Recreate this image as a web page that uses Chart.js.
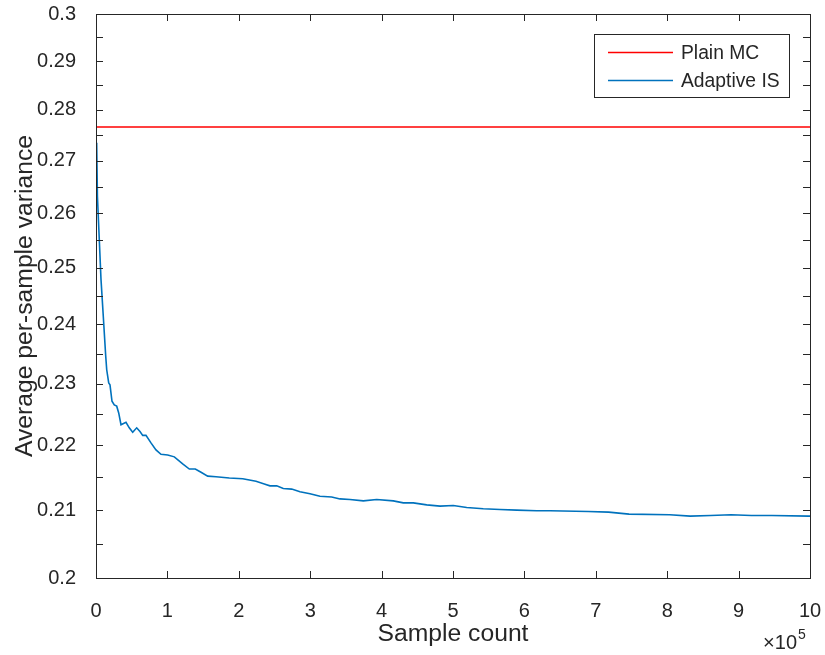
<!DOCTYPE html>
<html><head><meta charset="utf-8">
<script src="https://cdn.jsdelivr.net/npm/chart.js@4.4.1/dist/chart.umd.min.js"></script>
<style>html,body{margin:0;padding:0;background:#fff;}</style>
</head><body>
<canvas id="c" width="825" height="655"></canvas>
<script>
const sampleCounts = [0,1000,2000,4600,7000,10200,13600,15000,17800,19600,22400,25600,29000,31800,35000,42000,46600,51400,57000,61600,65400,70000,77000,84000,91000,100400,109700,121400,130700,139100,147100,156400,168100,186700,205500,224100,235700,243700,253100,262300,274100,285700,299700,313700,330100,341700,355700,374400,393100,416400,430400,444400,463200,481800,500400,519200,542400,565800,589200,617200,635900,689400,717900,746500,803600,832200,860800,889400,917900,946500,998000,1000000];
const adaptiveIS = [0.2735,0.2731,0.2631,0.2551,0.2479,0.2414,0.2346,0.2323,0.2301,0.2298,0.2271,0.2265,0.2263,0.2252,0.2233,0.2237,0.2228,0.2221,0.2228,0.2222,0.2216,0.2216,0.2204,0.2193,0.2186,0.2185,0.2182,0.2171,0.2163,0.2163,0.2158,0.2152,0.2151,0.2149,0.2148,0.2144,0.2140,0.2137,0.2137,0.2133,0.2132,0.2128,0.2125,0.2121,0.2120,0.2117,0.2116,0.2114,0.2116,0.2114,0.2111,0.2111,0.2108,0.2106,0.2107,0.2104,0.2102,0.2101,0.2100,0.2099,0.2099,0.2098,0.2097,0.2094,0.2093,0.2091,0.2092,0.2093,0.2092,0.2092,0.2091,0.2091];
const plainMCCounts = [0, 1000000];
const plainMC = [0.2766, 0.2766];
const seriesLabels = ['Plain MC', 'Adaptive IS'];
const xTicks = [0,100000,200000,300000,400000,500000,600000,700000,800000,900000,1000000];
const xTickLabels = ['0','1','2','3','4','5','6','7','8','9','10'];
const yTicks = [0.2,0.205,0.21,0.215,0.22,0.225,0.23,0.235,0.24,0.245,0.25,0.255,0.26,0.265,0.27,0.275,0.28,0.285,0.29,0.295,0.3];
const yTickLabels = ['0.2','','0.21','','0.22','','0.23','','0.24','','0.25','','0.26','','0.27','','0.28','','0.29','','0.3'];
const xTitle = 'Sample count';
const yTitle = 'Average per-sample variance';
const xExponent = ['\u00d710', '5'];

const FONT = '"Liberation Sans", Arial, Helvetica, sans-serif';
const INK = '#262626';

function noPad(s) { s.paddingLeft = 0; s.paddingRight = 0; s.paddingTop = 0; s.paddingBottom = 0; }

const framePlugin = {
  id: 'frame',
  afterDatasetsDraw(chart) {
    const {ctx, chartArea: a, scales: {x, y}} = chart;
    ctx.save();
    ctx.strokeStyle = INK;
    ctx.lineWidth = 1;
    const L = 7;
    ctx.beginPath();
    x.ticks.forEach(t => {
      const p = Math.round(x.getPixelForValue(t.value)) + 0.5;
      ctx.moveTo(p, a.bottom); ctx.lineTo(p, a.bottom - L);
      ctx.moveTo(p, a.top); ctx.lineTo(p, a.top + L);
    });
    y.ticks.forEach(t => {
      const p = Math.round(y.getPixelForValue(t.value)) + 0.5;
      ctx.moveTo(a.left, p); ctx.lineTo(a.left + L, p);
      ctx.moveTo(a.right, p); ctx.lineTo(a.right - L, p);
    });
    ctx.stroke();
    ctx.strokeRect(Math.round(a.left) + 0.5, Math.round(a.top) + 0.5, Math.round(a.right - a.left), Math.round(a.bottom - a.top));
    ctx.restore();
  },
  afterDraw(chart) {
    const {ctx, chartArea: a} = chart;
    ctx.save();
    const bx = a.right - 216, by = a.top + 20, bw = 195, bh = 63;
    ctx.fillStyle = '#fff';
    ctx.fillRect(bx, by, bw, bh);
    ctx.strokeStyle = INK; ctx.lineWidth = 1;
    ctx.strokeRect(Math.round(bx) + 0.5, Math.round(by) + 0.5, bw, bh);
    ctx.font = '19.3px ' + FONT;
    ctx.textBaseline = 'middle';
    ctx.textAlign = 'left';
    chart.data.datasets.forEach((ds, i) => {
      const ly = by + 18.5 + i * 28;
      ctx.strokeStyle = ds.borderColor;
      ctx.lineWidth = ds.borderWidth;
      ctx.beginPath();
      ctx.moveTo(bx + 14, ly); ctx.lineTo(bx + 79, ly);
      ctx.stroke();
      ctx.fillStyle = INK;
      ctx.fillText(ds.label, bx + 87, ly + 1);
    });
    ctx.fillStyle = INK;
    ctx.textBaseline = 'alphabetic';
    ctx.textAlign = 'right';
    ctx.font = '20px ' + FONT;
    ctx.fillText(xExponent[0], a.right - 13, a.bottom + 71);
    ctx.textAlign = 'left';
    ctx.font = '14px ' + FONT;
    ctx.fillText(xExponent[1], a.right - 12, a.bottom + 61);
    ctx.restore();
  }
};

new Chart(document.getElementById('c'), {
  type: 'line',
  data: {
    datasets: [
      { label: seriesLabels[0], data: plainMCCounts.map((v, i) => ({x: v, y: plainMC[i]})),
        borderColor: '#ff0000', borderWidth: 1.5, pointRadius: 0, tension: 0, fill: false },
      { label: seriesLabels[1], data: sampleCounts.map((v, i) => ({x: v, y: adaptiveIS[i]})),
        borderColor: '#0072bd', borderWidth: 1.6, pointRadius: 0, tension: 0, fill: false }
    ]
  },
  options: {
    responsive: false,
    animation: false,
    devicePixelRatio: 1,
    layout: { padding: { left: 0, right: 15, top: 14, bottom: 0 } },
    plugins: { legend: { display: false }, tooltip: { enabled: false } },
    scales: {
      x: {
        type: 'linear', min: 0, max: 1000000,
        afterBuildTicks: s => { s.ticks = xTicks.map(v => ({value: v})); },
        afterFit: s => { s.height = 77; noPad(s); },
        grid: { display: false }, border: { display: false },
        ticks: { autoSkip: false, maxRotation: 0, padding: 13, color: INK,
                 font: { family: FONT, size: 20 },
                 callback: (v, i) => xTickLabels[i] },
        title: { display: true, text: xTitle, color: INK, font: { family: FONT, size: 24.7 },
                 padding: { top: 0, bottom: 6 } }
      },
      y: {
        type: 'logarithmic', min: 0.2, max: 0.3,
        afterBuildTicks: s => { s.ticks = yTicks.map(v => ({value: v})); },
        afterFit: s => { s.width = 96; noPad(s); },
        grid: { display: false }, border: { display: false },
        ticks: { autoSkip: false, padding: 12, color: INK,
                 font: { family: FONT, size: 20 },
                 callback: (v, i) => yTickLabels[i] },
        title: { display: true, text: yTitle, color: INK, font: { family: FONT, size: 24.7 },
                 padding: { top: 10, bottom: 0 } }
      }
    }
  },
  plugins: [framePlugin]
});
</script>
</body></html>
